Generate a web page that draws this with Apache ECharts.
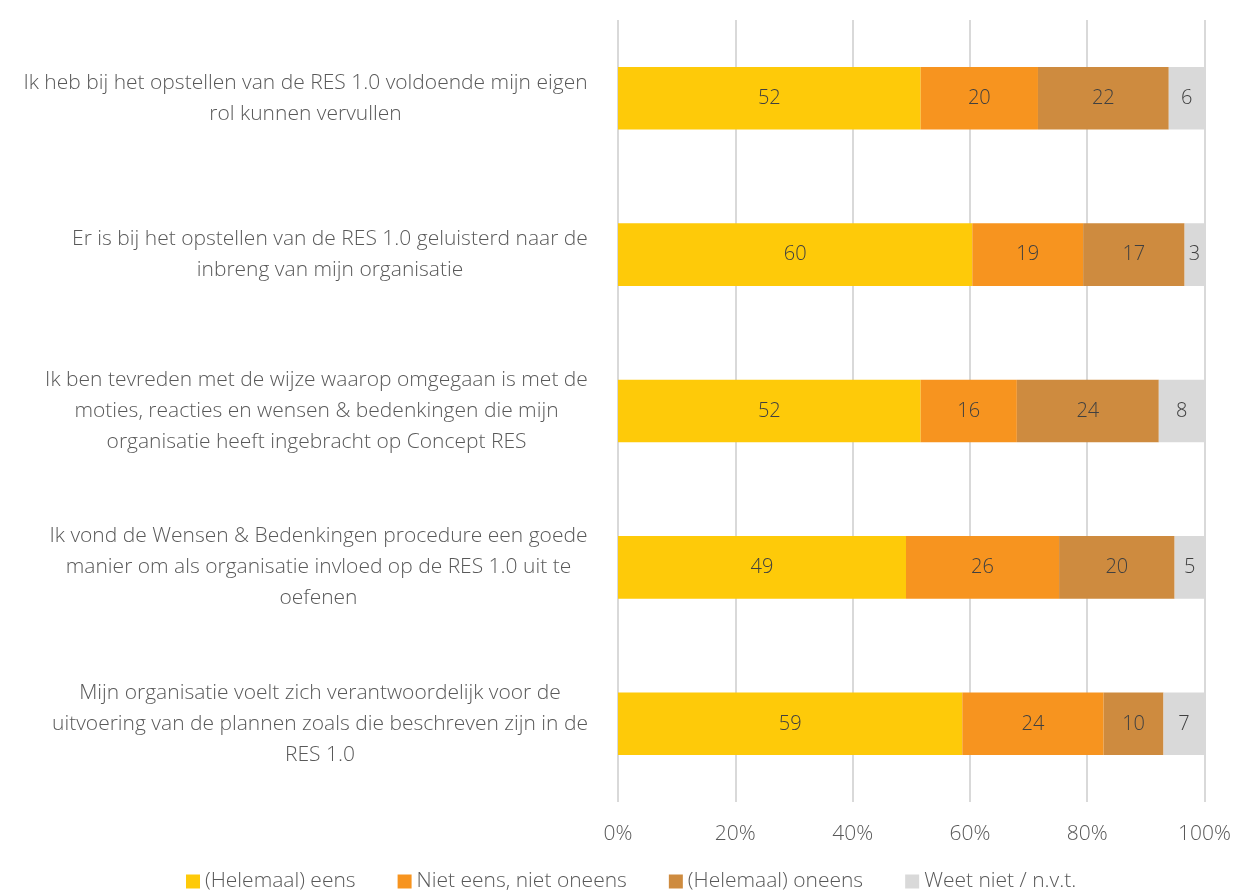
<!DOCTYPE html>
<html>
<head>
<meta charset="utf-8">
<script src="https://cdn.jsdelivr.net/npm/echarts@6/dist/echarts.min.js"></script>
<style>
html,body{margin:0;padding:0;background:#fff;}
#main{width:1234px;height:891px;}
</style>
</head>
<body>
<div id="main"></div>
<script>
var categories = [
    'Ik heb bij het opstellen van de RES 1.0 voldoende mijn eigen\nrol kunnen vervullen',
    'Er is bij het opstellen van de RES 1.0 geluisterd naar de\ninbreng van mijn organisatie',
    'Ik ben tevreden met de wijze waarop omgegaan is met de\nmoties, reacties en wensen & bedenkingen die mijn\norganisatie heeft ingebracht op Concept RES',
    'Ik vond de Wensen & Bedenkingen procedure een goede\nmanier om als organisatie invloed op de RES 1.0 uit te\noefenen',
    'Mijn organisatie voelt zich verantwoordelijk voor de\nuitvoering van de plannen zoals die beschreven zijn in de\nRES 1.0'
]
var seriesNames = ['(Helemaal) eens', 'Niet eens, niet oneens', '(Helemaal) oneens', 'Weet niet / n.v.t.']
var eens = [51.6, 60.4, 51.6, 49.1, 58.7]
var neutraal = [20.0, 18.9, 16.4, 26.1, 24.1]
var oneens = [22.3, 17.3, 24.2, 19.7, 10.2]
var weetNiet = [6.1, 3.4, 7.8, 5.1, 7.0]
var xTicks = [0, 20, 40, 60, 80, 100]
var colors = ['#FECA09', '#F7941F', '#CE8B3F', '#D9D9D9']

var textColor = '#595959'
var font = 'Open Sans'
var catFontSize = 21

// breedte van de langste regel meten, zodat de regels gecentreerd staan
var ctx = document.createElement('canvas').getContext('2d')
ctx.font = '300 ' + catFontSize + 'px "' + font + '"'
var rich = {}
for (var k = 0; k < categories.length; k++) {
    var lines = categories[k].split('\n')
    var w = 0
    for (var j = 0; j < lines.length; j++) {
        w = Math.max(w, ctx.measureText(lines[j]).width)
    }
    rich['c' + k] = {
        width: Math.ceil(w) + 2,
        align: 'center',
        color: textColor,
        fontSize: catFontSize,
        lineHeight: 31,
        fontFamily: font,
        fontWeight: 300
    }
}

var myChart = echarts.init(document.getElementById('main'))

var allData = [eens, neutraal, oneens, weetNiet]
var showData = []
for (var i = 0; i < seriesNames.length; i++) {
    showData.push({
        name: seriesNames[i],
        type: 'bar',
        stack: 'total',
        barWidth: '40%',
        data: allData[i],
        itemStyle: { color: colors[i] },
        label: {
            show: true,
            position: 'inside',
            color: '#404040',
            fontFamily: font,
            fontWeight: 300,
            fontSize: 20,
            formatter: function (p) { return Math.round(p.value) }
        }
    })
}

var option = {
    animation: false,
    color: colors,
    textStyle: { fontFamily: font },
    grid: {
        left: 618,
        right: 28,
        top: 20,
        height: 782
    },
    legend: {
        data: seriesNames,
        left: 181,
        top: 866,
        itemWidth: 14,
        itemHeight: 14,
        itemGap: 42,
        icon: 'rect',
        textStyle: { color: textColor, fontSize: 21, fontFamily: font, fontWeight: 300 }
    },
    xAxis: {
        type: 'value',
        min: 0,
        max: 100,
        interval: 20,
        axisLine: { show: false },
        axisTick: { show: false },
        splitLine: { lineStyle: { color: '#D9D9D9', width: 2 } },
        axisLabel: {
            margin: 22,
            color: textColor,
            fontSize: 21,
            fontFamily: font,
            fontWeight: 300,
            formatter: function (v) { return xTicks.indexOf(v) >= 0 ? v + '%' : '' }
        }
    },
    yAxis: {
        type: 'category',
        inverse: true,
        data: categories,
        axisLine: { show: false },
        axisTick: { show: false },
        axisLabel: {
            margin: 29,
            align: 'right',
            formatter: function (v, idx) { return '{c' + idx + '|' + v.split('\n').join('}\n{c' + idx + '|') + '}' },
            rich: rich
        }
    },
    series: showData
}
myChart.setOption(option)
</script>
</body>
</html>
